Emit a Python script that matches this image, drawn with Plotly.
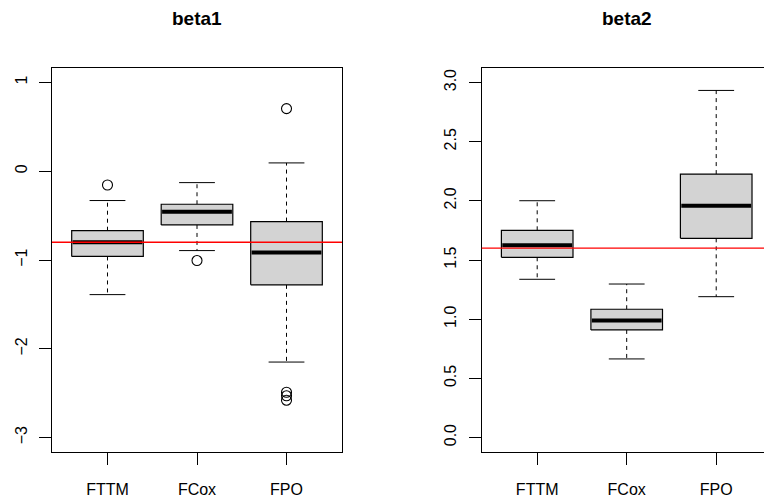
import plotly.graph_objects as go

methods = ["FTTM", "FCox", "FPO"]

# beta1 panel
b1_low = [-1.39, -0.894, -2.15]
b1_q1 = [-0.96, -0.605, -1.28]
b1_med = [-0.80, -0.455, -0.916]
b1_q3 = [-0.67, -0.372, -0.567]
b1_high = [-0.33, -0.128, 0.094]
b1_out = [[-0.155], [-1.006], [0.706, -2.49, -2.53, -2.58]]
b1_true = -0.8

# beta2 panel
b2_low = [1.337, 0.664, 1.19]
b2_q1 = [1.523, 0.909, 1.683]
b2_med = [1.624, 0.988, 1.959]
b2_q3 = [1.751, 1.084, 2.226]
b2_high = [2.001, 1.297, 2.933]
b2_out = [[], [], []]
b2_true = 1.6

b1_ticks = [-3, -2, -1, 0, 1]
b2_ticks = [0.0, 0.5, 1.0, 1.5, 2.0, 2.5, 3.0]
b2_ticktext = ["0.0", "0.5", "1.0", "1.5", "2.0", "2.5", "3.0"]

W, H = 764, 502
FONT = "Liberation Sans, Arial, sans-serif"

fig = go.Figure()


def add_panel(xa, ya, low, q1, med, q3, high, outs):
    for i in range(len(methods)):
        c = i + 1
        hw, cw = 0.4, 0.2
        # whiskers (dashed)
        fig.add_trace(go.Scatter(x=[c, c, None, c, c], y=[q3[i], high[i], None, q1[i], low[i]],
                                 mode="lines", line=dict(color="black", width=1, dash="4px,4px"),
                                 xaxis=xa, yaxis=ya, showlegend=False, hoverinfo="skip"))
        # caps
        fig.add_trace(go.Scatter(x=[c - cw, c + cw, None, c - cw, c + cw],
                                 y=[high[i], high[i], None, low[i], low[i]],
                                 mode="lines", line=dict(color="black", width=1),
                                 xaxis=xa, yaxis=ya, showlegend=False, hoverinfo="skip"))
        # box
        fig.add_trace(go.Scatter(x=[c - hw, c + hw, c + hw, c - hw, c - hw],
                                 y=[q1[i], q1[i], q3[i], q3[i], q1[i]],
                                 mode="lines", fill="toself", fillcolor="#D3D3D3",
                                 line=dict(color="black", width=1.2),
                                 xaxis=xa, yaxis=ya, showlegend=False, hoverinfo="skip"))
        # median
        fig.add_trace(go.Scatter(x=[c - hw + 0.01, c + hw - 0.01], y=[med[i], med[i]],
                                 mode="lines", line=dict(color="black", width=4),
                                 xaxis=xa, yaxis=ya, showlegend=False, hoverinfo="skip"))
        # outliers
        if outs[i]:
            fig.add_trace(go.Scatter(x=[c] * len(outs[i]), y=outs[i], mode="markers",
                                     marker=dict(symbol="circle-open", size=10, color="black",
                                                 line=dict(width=1.1)),
                                     xaxis=xa, yaxis=ya, showlegend=False, hoverinfo="skip"))


add_panel("x", "y", b1_low, b1_q1, b1_med, b1_q3, b1_high, b1_out)
add_panel("x2", "y2", b2_low, b2_q1, b2_med, b2_q3, b2_high, b2_out)

fig.add_shape(type="line", x0=0, x1=1, y0=b1_true, y1=b1_true, xref="x domain", yref="y",
              line=dict(color="red", width=1.3), layer="above")
fig.add_shape(type="line", x0=0, x1=1, y0=b2_true, y1=b2_true, xref="x2 domain", yref="y2",
              line=dict(color="red", width=1.3), layer="above")

y_dom = [(H - 451.7) / H, (H - 68.3) / H]
ppu = 290 / 3.24

axis_common = dict(showgrid=False, zeroline=False, showline=True, linecolor="black", linewidth=1,
                   ticks="outside", ticklen=12, tickwidth=1, tickcolor="black",
                   tickfont=dict(family=FONT, size=16, color="black"))

fig.update_layout(
    width=W, height=H, margin=dict(l=0, r=0, t=0, b=0),
    paper_bgcolor="white", plot_bgcolor="white",
    xaxis=dict(domain=[52 / W, 342 / W], range=[0.38, 3.62], tickvals=[1, 2, 3], ticktext=methods,
               mirror=True, anchor="y", ticklabelstandoff=11, **axis_common),
    yaxis=dict(domain=y_dom, range=[-3.16, 1.16], tickvals=b1_ticks, tickangle=-90,
               mirror=True, anchor="x", ticklabelstandoff=6, **axis_common),
    xaxis2=dict(domain=[481.7 / W, 1.0], range=[0.38, 0.38 + (W - 481.7) / ppu], tickvals=[1, 2, 3],
                ticktext=methods, mirror=True, anchor="y2", ticklabelstandoff=11, **axis_common),
    yaxis2=dict(domain=y_dom, range=[-0.12, 3.12], tickvals=b2_ticks, ticktext=b2_ticktext,
                tickangle=-90, mirror=False, anchor="x2", ticklabelstandoff=6, **axis_common),
    annotations=[
        dict(text="<b>beta1</b>", x=197 / W, y=1 - 18.5 / H, xref="paper", yref="paper",
             showarrow=False, xanchor="center", yanchor="middle",
             font=dict(family=FONT, size=19, color="black")),
        dict(text="<b>beta2</b>", x=627 / W, y=1 - 18.5 / H, xref="paper", yref="paper",
             showarrow=False, xanchor="center", yanchor="middle",
             font=dict(family=FONT, size=19, color="black")),
    ],
)

fig.write_html("out.html")
